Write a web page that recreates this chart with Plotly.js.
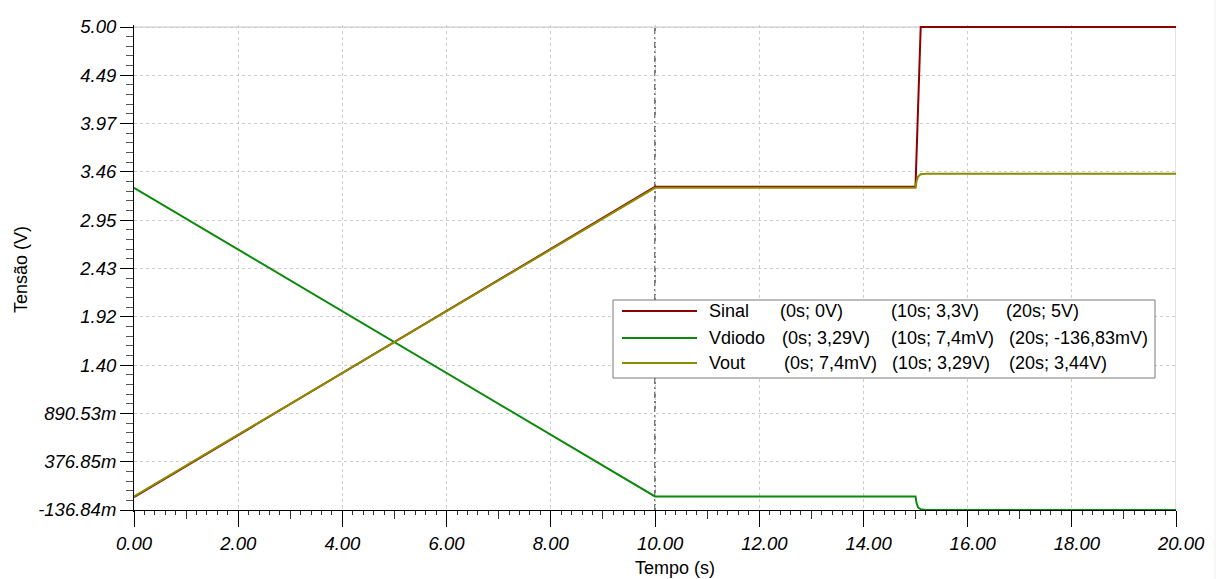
<!DOCTYPE html>
<html>
<head>
<meta charset="utf-8">
<script src="https://cdn.plot.ly/plotly-3.0.1.min.js"></script>
<style>html,body{margin:0;padding:0;background:#fff;}</style>
</head>
<body>
<div id="chart" style="width:1222px;height:579px;"></div>
<script>
// ---- data ----
const timeSinal  = [0, 10, 15, 15.02, 15.04, 15.06, 15.08, 15.1, 20];
const sinal      = [0, 3.3, 3.3, 3.65, 4.05, 4.4, 4.75, 5.0, 5.0];
const timeVdiodo = [0, 10, 15, 15.02, 15.05, 15.1, 15.2, 20];
const vdiodo     = [3.29, 0.0074, 0.0074, -0.06, -0.11, -0.13, -0.1368, -0.13683];
const timeVout   = [0, 10, 15, 15.02, 15.05, 15.1, 15.2, 20];
const vout       = [0.0074, 3.29, 3.29, 3.36, 3.41, 3.435, 3.44, 3.44];

const yTickVals = [-0.13684, 0.37685, 0.89053, 1.40421, 1.91790, 2.43158, 2.94527, 3.45895, 3.97263, 4.48632, 5.00];
const yTickText = ['-136.84m', '376.85m', '890.53m', '1.40', '1.92', '2.43', '2.95', '3.46', '3.97', '4.49', '5.00'];
const xTickVals = [0, 2, 4, 6, 8, 10, 12, 14, 16, 18, 20];
const xTickText = ['0.00', '2.00', '4.00', '6.00', '8.00', '10.00', '12.00', '14.00', '16.00', '18.00', '20.00'];
const xMidTickVals = [1, 3, 5, 7, 9, 11, 13, 15, 17, 19];
const cursorTime = 10;

const seriesNames = ['Sinal', 'Vdiodo', 'Vout'];
const legendAt0   = ['(0s; 0V)', '(0s; 3,29V)', '(0s; 7,4mV)'];
const legendAt10  = ['(10s; 3,3V)', '(10s; 7,4mV)', '(10s; 3,29V)'];
const legendAt20  = ['(20s; 5V)', '(20s; -136,83mV)', '(20s; 3,44V)'];
const xTitle = 'Tempo (s)';
const yTitle = 'Tensão (V)';

// ---- styling / geometry ----
const colors = ['#8b0000', '#0a8a0a', '#8c8c00'];
const FONT = 'Liberation Sans, Arial, sans-serif';
const W = 1222, H = 579;
const ML = 134, MR = 46, MT = 25, MB = 67;
const PW = W - ML - MR, PH = H - MT - MB;
const yLo = yTickVals[0], yHi = yTickVals[yTickVals.length - 1];
const vPerPx = (yHi - yLo) / (PH - 4);
const yRange = [yLo - 2 * vPerPx, yHi + 2 * vPerPx];
const axisPos = 2 / PH;
const px = x => (x - ML) / PW;
const py = y => (H - MB - y) / PH;

const traces = [
  {x: timeSinal, y: sinal, name: seriesNames[0], mode: 'lines', line: {color: colors[0], width: 2}},
  {x: timeVdiodo, y: vdiodo, name: seriesNames[1], mode: 'lines', line: {color: colors[1], width: 2}},
  {x: timeVout, y: vout, name: seriesNames[2], mode: 'lines', line: {color: colors[2], width: 2}},
  {x: [], y: [], xaxis: 'x2', showlegend: false, hoverinfo: 'skip'}
];

const grid = {showgrid: true, gridcolor: '#cccccc', gridwidth: 1, griddash: '3px,3px'};
const tickFont = {family: FONT, size: 18.5, style: 'italic', color: '#000'};

const shapes = [
  {type: 'line', xref: 'x', yref: 'y', x0: 0, x1: 20, y0: yHi, y1: yHi, line: {color: '#c4c4c4', width: 1}, layer: 'below'},
  {type: 'line', xref: 'x', yref: 'y', x0: 20, x1: 20, y0: yLo, y1: yHi, line: {color: '#c4c4c4', width: 1}, layer: 'below'},
  {type: 'line', xref: 'x', yref: 'y', x0: cursorTime, x1: cursorTime, y0: yLo, y1: yHi, line: {color: '#505050', width: 1.5, dash: '6px,3px,2px,3px'}, layer: 'below'},
  {type: 'line', xref: 'paper', yref: 'paper', x0: px(1215), x1: px(1215), y0: py(0), y1: py(579), line: {color: '#eeeeee', width: 1}},
  {type: 'rect', xref: 'paper', yref: 'paper', x0: px(613), x1: px(1155), y0: py(300), y1: py(378), fillcolor: '#ffffff', line: {color: '#7a7a7a', width: 1}}
];
const rowY = [311, 338, 363];
const col0X = [778, 780, 782];
const col10X = [889, 889, 890];
const col20X = [1004, 1007, 1007];
const annotations = [];
const legFont = {family: FONT, size: 18, color: '#000'};
seriesNames.forEach((n, i) => {
  shapes.push({type: 'line', xref: 'paper', yref: 'paper', x0: px(622), x1: px(697), y0: py(rowY[i]), y1: py(rowY[i]), line: {color: colors[i], width: 2}});
  const base = {xref: 'paper', yref: 'paper', y: py(rowY[i]), xanchor: 'left', yanchor: 'middle', showarrow: false, font: legFont};
  annotations.push(Object.assign({}, base, {x: px(707), text: n}));
  annotations.push(Object.assign({}, base, {x: px(col0X[i]), text: legendAt0[i]}));
  annotations.push(Object.assign({}, base, {x: px(col10X[i]), text: legendAt10[i]}));
  annotations.push(Object.assign({}, base, {x: px(col20X[i]), text: legendAt20[i]}));
});
const titleFont = {family: FONT, size: 18, color: '#000'};
annotations.push({xref: 'paper', yref: 'paper', x: px(21), y: py(270), text: yTitle, textangle: -90,
  showarrow: false, xanchor: 'center', yanchor: 'middle', font: titleFont});
annotations.push({xref: 'paper', yref: 'paper', x: px(675), y: py(568), text: xTitle,
  showarrow: false, xanchor: 'center', yanchor: 'middle', font: titleFont});

const layout = {
  width: W, height: H,
  margin: {l: ML, r: MR, t: MT, b: MB, pad: 0},
  paper_bgcolor: '#ffffff', plot_bgcolor: '#ffffff',
  showlegend: false,
  font: {family: FONT, color: '#000'},
  xaxis: Object.assign({
    range: [0, 20], anchor: 'free', position: axisPos,
    tickvals: xTickVals, ticktext: xTickText, tickfont: tickFont,
    ticks: 'outside', ticklen: 16, tickwidth: 1, tickcolor: '#000',
    ticklabelposition: 'outside right', ticklabelshift: -19, ticklabelstandoff: 17,
    showline: true, linecolor: '#000', linewidth: 1, zeroline: false,
    minor: {dtick: 0.2, tick0: 0, ticks: 'outside', ticklen: 4, tickcolor: '#333', showgrid: false},
    automargin: false
  }, grid),
  xaxis2: {
    range: [0, 20], overlaying: 'x', anchor: 'free', position: axisPos, side: 'bottom',
    tickvals: xMidTickVals, ticks: 'outside', ticklen: 8, tickcolor: '#333',
    showticklabels: false, showgrid: false, showline: false, zeroline: false, automargin: false
  },
  yaxis: Object.assign({
    range: yRange,
    tickvals: yTickVals, ticktext: yTickText, tickfont: tickFont,
    ticks: 'outside', ticklen: 13, tickwidth: 1, tickcolor: '#000',
    showline: true, linecolor: '#000', linewidth: 1, zeroline: false,
    minor: {dtick: (yHi - yLo) / 50, tick0: yLo, ticks: 'outside', ticklen: 7, tickcolor: '#555', showgrid: false},
    automargin: false
  }, grid),
  shapes: shapes,
  annotations: annotations
};

Plotly.newPlot('chart', traces, layout, {displayModeBar: false, staticPlot: true});
</script>
</body>
</html>
